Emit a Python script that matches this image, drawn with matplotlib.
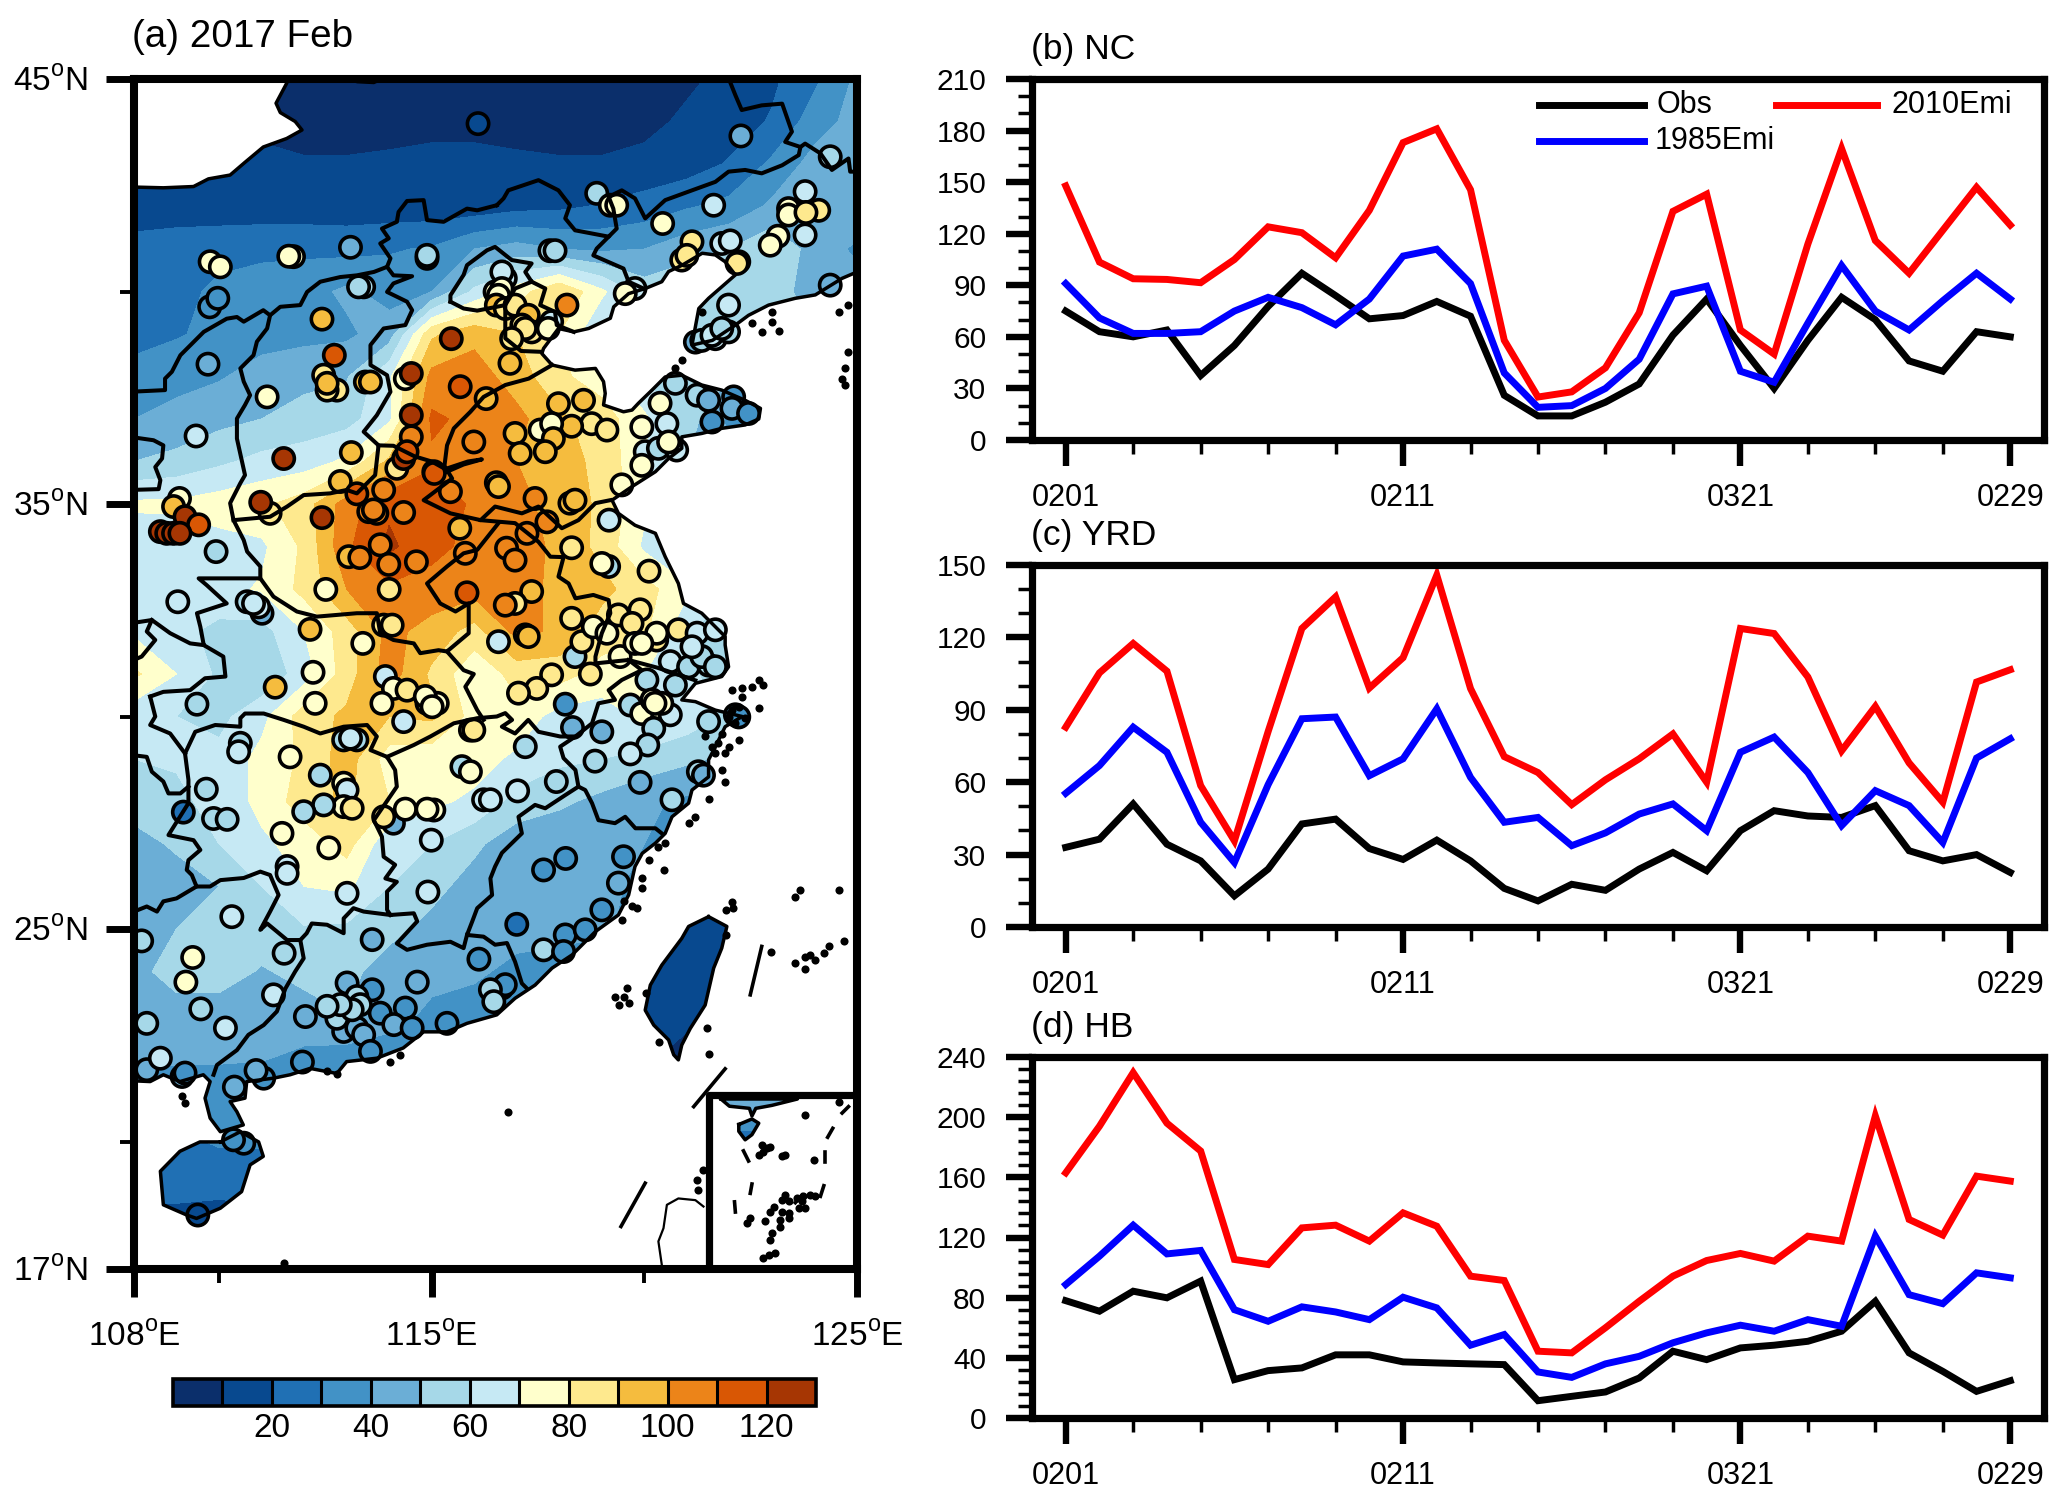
import numpy as np
import matplotlib
matplotlib.use('Agg')
import matplotlib.pyplot as plt
from matplotlib.colors import ListedColormap, BoundaryNorm
from matplotlib.cm import ScalarMappable
from matplotlib.path import Path
from matplotlib.ticker import FixedLocator, MultipleLocator

plt.rcParams['font.family'] = ['Liberation Sans', 'DejaVu Sans']
plt.rcParams['mathtext.fontset'] = 'custom'
plt.rcParams['mathtext.rm'] = 'Liberation Sans'

## series of the three right panels
days = list(range(29))
day_ticks = [0, 10, 20, 28]
day_labels = ['0201', '0211', '0321', '0229']

nc_obs = [75, 63, 60, 64, 37.5, 55, 77.7, 97, 84, 70.5, 72.4, 80.6, 72, 26, 14, 14, 22, 32.6, 61, 82, 55, 30, 58, 83, 70, 46, 40, 63, 60]
nc_1985 = [91, 71, 62, 62, 63, 75, 83, 77, 67, 82, 107, 111, 91, 39, 19, 20, 30, 47, 85, 89.5, 40, 33.6, 68, 101.5, 75, 64, 81, 97, 82]
nc_2010 = [147.8, 103.5, 93.8, 93.4, 91.5, 105, 124, 120.6, 106, 133.6, 173, 181, 145.6, 58, 25, 28, 42, 74, 133, 143, 64, 50, 114, 169.5, 116, 97, 122, 147, 125]

yrd_obs = [33, 36.4, 51, 34.3, 27.4, 12.9, 24, 42.7, 44.7, 32.5, 28, 36, 27.4, 16, 10.8, 17.7, 15.2, 24, 30.9, 23.3, 39.9, 48.2, 46, 45.4, 50.3, 31.6, 27.4, 30, 22.6]
yrd_1985 = [55.4, 66.9, 82.8, 72.4, 43.4, 26.7, 59, 86.3, 87, 62.7, 69.7, 90.4, 62, 43.4, 45.4, 33.7, 39, 46.8, 51, 39.9, 72.4, 78.7, 64, 42, 56.5, 50.3, 35, 70, 78]
yrd_2010 = [82.8, 105.3, 117.5, 106, 58.6, 35.7, 81, 123.7, 136.8, 99, 111.6, 145.8, 98.8, 70.6, 64, 50.7, 61, 69.7, 80, 60, 123.7, 121.6, 103.6, 73, 91.4, 68, 51.7, 101.5, 106.6]

hb_obs = [78, 71, 84.3, 79.9, 91, 25.5, 31.5, 33.3, 42, 42, 37.3, 36.6, 36, 35.5, 11.5, 14.4, 17.3, 26.6, 44.4, 38.8, 46.6, 48.4, 51, 57.7, 77.6, 43.3, 31, 17.7, 24.8]
hb_1985 = [88.7, 107.6, 128.2, 109.1, 111.4, 72, 64.3, 73.9, 70.5, 65.4, 80.3, 73.2, 48.4, 55.5, 30.6, 27, 36, 41, 50, 56.6, 61.7, 57.7, 65.4, 61, 120.9, 82, 76, 96.5, 93.2]
hb_2010 = [163, 194, 229.6, 196, 177.5, 105.4, 102, 126.4, 128.2, 117.6, 136.4, 127.5, 94.3, 91.4, 44.4, 43.3, 60, 77.6, 94.3, 104.7, 109.4, 104.3, 120.9, 117.6, 200.8, 132, 121.6, 160.8, 157.5]

## colour classes
levels = list(range(0, 140, 10))
level_colors = ['#0B2F6B', '#08498F', '#2070B4', '#4292C6', '#6BAED6', '#A6D8E8', '#C6E9F4',
                '#FFFFCC', '#FEE98E', '#F5BC3E', '#EC8419', '#D95704', '#A63603']
cbar_ticks = [20, 40, 60, 80, 100, 120]

## gridded field, one row per latitude, lon 108..125
field_lon = list(range(108, 126))
field_lat = list(range(45, 16, -1))
field_rows = [
    [5, 5, 5, 5, 5, 5, 5, 5, 5, 5, 5, 5, 5, 8, 13, 18, 28, 42],
    [8, 8, 8, 8, 6, 6, 6, 7, 8, 6, 6, 6, 7, 12, 15, 21, 35, 44],
    [12, 12, 12, 12, 11, 11, 12, 13, 12, 12, 11, 11, 13, 15, 21, 32, 44, 47],
    [14, 14, 14, 14, 14, 14, 14, 14, 14, 17, 18, 21, 24, 29, 33, 42, 46, 48],
    [24, 26, 27, 28, 28, 27, 29, 31, 40, 44, 40, 38, 40, 46, 50, 58, 46, 38],
    [24, 27, 32, 34, 36, 42, 36, 40, 62, 75, 90, 72, 55, 58, 60, 52, 48, 45],
    [27, 29, 33, 36, 37, 38, 45, 88, 97, 90, 80, 60, 60, 58, 56, 52, 50, 50],
    [33, 37, 39, 44, 47, 49, 68, 103, 105, 95, 82, 75, 60, 55, 50, 48, 45, 45],
    [40, 43, 47, 50, 54, 56, 68, 112, 107, 103, 92, 85, 72, 55, 38, 35, 35, 35],
    [50, 53, 58, 63, 65, 72, 92, 108, 105, 100, 93, 88, 70, 50, 40, 35, 35, 35],
    [72, 72, 75, 78, 85, 105, 118, 118, 108, 103, 96, 88, 72, 60, 50, 45, 45, 45],
    [62, 64, 66, 68, 82, 108, 122, 113, 107, 106, 97, 87, 68, 55, 50, 45, 45, 45],
    [64, 65, 67, 71, 83, 100, 108, 106, 104, 106, 96, 93, 84, 72, 60, 50, 45, 45],
    [68, 63, 57, 56, 70, 85, 103, 96, 86, 103, 98, 85, 82, 62, 50, 45, 45, 45],
    [82, 70, 58, 52, 65, 85, 105, 88, 72, 84, 84, 76, 70, 62, 55, 45, 45, 45],
    [63, 60, 57, 67, 85, 92, 90, 92, 76, 76, 66, 65, 72, 66, 58, 45, 45, 45],
    [60, 61, 63, 73, 82, 95, 75, 73, 74, 68, 62, 60, 56, 52, 48, 45, 45, 45],
    [56, 58, 63, 73, 85, 92, 80, 72, 68, 56, 52, 47, 42, 38, 35, 35, 35, 35],
    [45, 52, 60, 68, 74, 84, 62, 60, 52, 44, 42, 42, 40, 35, 32, 30, 30, 30],
    [45, 44, 50, 60, 70, 72, 60, 53, 46, 42, 42, 42, 38, 30, 25, 25, 25, 25],
    [42, 50, 55, 56, 59, 58, 53, 47, 44, 44, 44, 44, 30, 15, 14, 14, 14, 14],
    [47, 54, 55, 49, 53, 53, 45, 43, 42, 37, 34, 25, 22, 14, 13, 13, 13, 13],
    [45, 46, 45, 42, 46, 50, 44, 38, 35, 34, 30, 25, 16, 13, 12, 12, 12, 12],
    [42, 42, 42, 41, 38, 36, 35, 32, 30, 30, 25, 20, 12, 6, 8, 8, 8, 8],
    [35, 32, 31, 32, 32, 32, 32, 30, 30, 30, 25, 20, 12, 10, 45, 45, 45, 25],
    [28, 28, 31, 31, 30, 30, 30, 30, 30, 30, 30, 30, 30, 30, 25, 25, 25, 25],
    [25, 25, 24, 25, 25, 25, 25, 25, 25, 25, 25, 25, 25, 25, 25, 25, 25, 25],
    [14, 14, 13, 14, 14, 14, 14, 14, 14, 14, 14, 14, 14, 14, 14, 14, 14, 14],
    [14, 14, 14, 14, 14, 14, 14, 14, 14, 14, 14, 14, 14, 14, 14, 14, 14, 14],
]

## outlines, lon / lat
mainland = [(107.5, 42.47), (108.69, 42.44), (109.40, 42.47), (109.75, 42.65), (110.26, 42.74), (110.61, 43.04),
            (111.04, 43.40), (111.59, 43.60), (111.95, 43.80), (111.79, 44.00), (111.44, 44.21), (111.34, 44.43),
            (111.59, 44.90), (111.75, 45.5), (125.5, 45.5), (125.5, 40.43), (124.93, 40.43), (124.65, 40.31),
            (124.02, 39.92), (123.55, 39.84), (122.92, 39.68), (122.45, 39.44), (122.14, 39.21), (121.6, 38.85),
            (121.12, 38.74), (121.28, 39.60), (121.51, 39.84), (122.14, 40.39), (121.90, 40.70), (121.67, 40.86),
            (121.36, 40.90), (120.89, 40.62), (120.57, 40.47), (120.41, 40.23), (120.02, 40.07), (119.63, 39.95),
            (119.28, 39.64), (119.20, 39.37), (118.69, 39.13), (118.34, 39.05), (117.98, 39.13), (117.63, 38.66),
            (117.59, 38.54), (117.83, 38.27), (118.37, 38.15), (118.85, 38.19), (119.04, 37.88), (119.08, 37.60),
            (119.04, 37.33), (119.51, 37.17), (119.71, 37.21), (119.86, 37.37), (120.18, 37.68), (120.49, 37.99),
            (120.88, 38.03), (121.35, 37.80), (121.82, 37.68), (122.37, 37.44), (122.73, 37.25), (122.69, 37.00),
            (122.37, 36.86), (121.82, 36.78), (121.35, 36.66), (120.88, 36.58), (120.88, 36.31), (120.57, 36.07),
            (120.26, 35.76), (119.71, 35.41), (119.24, 35.09), (119.39, 34.78), (119.78, 34.50), (120.26, 34.31),
            (120.49, 33.76), (120.80, 33.13), (120.92, 32.66), (121.35, 32.43), (121.90, 31.88), (121.90, 31.68),
            (121.98, 31.17), (121.82, 30.94), (121.20, 30.78), (120.88, 30.39), (121.20, 30.35), (121.67, 30.15),
            (122.3, 30.0), (121.90, 29.76), (121.67, 29.29), (121.51, 28.98), (121.51, 28.58), (121.12, 28.27),
            (121.04, 27.96), (120.65, 27.64), (120.49, 27.25), (120.26, 27.02), (119.95, 26.78), (119.78, 26.47),
            (119.63, 25.80), (119.39, 25.33), (118.85, 24.94), (118.30, 24.39), (117.83, 24.08), (117.43, 23.68),
            (116.96, 23.37), (116.53, 22.98), (115.83, 22.78), (115.36, 22.58), (114.81, 22.58), (114.33, 22.20),
            (113.71, 21.96), (113.00, 21.88), (112.77, 21.60), (112.14, 21.72), (111.67, 21.57), (111.28, 21.49),
            (110.65, 21.41), (110.61, 21.02), (110.26, 20.94), (110.42, 20.70), (110.57, 20.39), (110.03, 20.23),
            (109.79, 20.55), (109.67, 21.02), (109.79, 21.41), (109.63, 21.57), (109.08, 21.41), (108.69, 21.57),
            (108.38, 21.41), (107.5, 21.45)]
hainan = [(110.03, 19.99), (110.50, 20.23), (110.93, 19.99), (111.04, 19.65), (110.73, 19.45), (110.53, 18.82),
          (110.03, 18.43), (109.47, 18.19), (109.24, 18.27), (108.69, 18.51), (108.62, 19.30), (109.08, 19.77),
          (109.55, 19.99)]
taiwan = [(121.51, 25.29), (121.94, 25.06), (121.82, 24.55), (121.63, 24.08), (121.43, 23.21), (121.08, 22.66),
          (120.88, 22.27), (120.80, 21.92), (120.69, 22.04), (120.57, 22.39), (120.22, 22.74), (120.02, 23.09),
          (120.14, 23.68), (120.41, 24.15), (120.88, 24.78), (121.04, 25.06)]
inset_hainan = [(122.22, 20.4), (122.53, 20.53), (122.69, 20.43), (122.53, 20.16), (122.37, 20.04), (122.22, 20.24)]
inset_coast = [(121.8, 21.0), (122.0, 20.83), (122.47, 20.78), (122.53, 20.6), (122.62, 20.78), (123.0, 20.85), (123.6, 21.0)]
top_lake = [(112.93, 45.0), (113.25, 44.92), (113.64, 44.9), (113.87, 45.0)]

province_lines = [
    # north border of Hebei / Shanxi / Shaanxi
    [(116.53, 42.03), (116.07, 41.91), (115.83, 41.95), (115.28, 41.64), (114.89, 41.68), (114.81, 42.15), (114.42, 42.13),
     (114.22, 41.87), (114.18, 41.64), (113.83, 41.48), (113.99, 41.25), (113.79, 41.13), (114.03, 40.78), (113.95, 40.58),
     (113.64, 40.46), (113.24, 40.38), (112.85, 40.34), (112.38, 40.23), (112.07, 39.99), (111.91, 39.68), (111.44, 39.64),
     (111.20, 39.44), (111.04, 39.56), (110.58, 39.29), (110.42, 39.40), (110.18, 39.36), (109.64, 39.05), (109.09, 38.50),
     (108.89, 38.11), (108.73, 37.95), (108.73, 37.68), (107.9, 37.64)],
    # Shanxi - Shaanxi
    [(111.20, 39.44), (111.13, 39.13), (110.89, 38.82), (110.81, 38.50), (110.50, 38.19), (110.58, 37.88), (110.73, 37.56),
     (110.61, 37.33), (110.42, 37.01), (110.42, 36.54), (110.61, 35.68), (110.50, 35.49), (110.26, 35.02), (110.34, 34.62),
     (110.58, 34.15), (110.66, 33.88), (110.97, 33.53), (110.97, 33.25)],
    # Shanxi - Hebei - Henan
    [(113.95, 40.58), (114.10, 40.38), (114.54, 40.36), (114.10, 40.19), (113.95, 39.99), (114.42, 39.76), (114.54, 39.56),
     (114.38, 39.21), (113.87, 39.13), (113.56, 38.74), (113.56, 38.27), (113.95, 38.03), (114.03, 37.64), (113.71, 37.09),
     (113.40, 36.70), (113.75, 36.38), (113.67, 35.68), (113.24, 35.25), (113.00, 35.33), (112.61, 35.25), (111.99, 35.21),
     (111.60, 34.94), (111.20, 34.70), (110.34, 34.62)],
    [(113.75, 36.38), (114.10, 36.37), (114.60, 36.12), (115.00, 36.00), (115.36, 35.80)],
    [(115.36, 35.76), (115.75, 35.93), (116.18, 36.05), (115.85, 36.00), (115.40, 35.85)],
    # Hebei - Shandong - Henan
    [(117.83, 38.27), (117.28, 37.95), (116.73, 37.80), (116.22, 37.52), (115.91, 37.17), (115.52, 36.78), (115.36, 36.38),
     (115.30, 35.90), (115.48, 35.60), (114.81, 35.09), (115.44, 34.78), (116.15, 34.62), (116.49, 34.94), (117.12, 34.78),
     (117.51, 34.94), (118.06, 34.43), (118.45, 34.62), (118.85, 35.02), (119.20, 35.09)],
    # Jiangsu - Anhui
    [(116.15, 34.62), (116.96, 34.55), (117.51, 34.11), (117.79, 33.76), (118.10, 33.75), (117.98, 33.29), (118.22, 33.13),
     (118.38, 32.78), (118.80, 32.86), (119.16, 32.74), (119.20, 32.43), (119.00, 31.96), (118.85, 31.41), (118.85, 31.25),
     (119.63, 31.33), (119.94, 31.09), (119.47, 30.86), (119.16, 30.62), (119.31, 30.39), (118.92, 30.31), (118.77, 29.84),
     (118.38, 29.53), (118.02, 29.29), (118.10, 29.02), (118.38, 28.74), (118.45, 28.35), (118.61, 28.27), (118.77, 27.96),
     (118.92, 27.56), (119.31, 27.49), (119.55, 27.64), (119.79, 27.37), (120.26, 27.37), (120.41, 27.25)],
    [(119.63, 31.33), (120.3, 31.15), (120.9, 30.95), (121.2, 30.85)],
    # Fujian - Jiangxi - Guangdong
    [(118.45, 28.35), (118.14, 28.15), (117.67, 27.84), (117.43, 27.92), (117.04, 27.64), (117.12, 27.25), (116.65, 26.79),
     (116.49, 26.47), (116.38, 26.19), (116.42, 25.80), (116.07, 25.49), (115.95, 25.17), (115.83, 24.86), (116.22, 24.82),
     (116.49, 24.63), (116.77, 24.67), (116.96, 24.23), (117.12, 23.72), (117.24, 23.60)],
    # Jiangxi - Guangdong - Hunan - Guangxi
    [(115.83, 24.86), (115.75, 24.55), (115.44, 24.70), (114.89, 24.63), (114.42, 24.51), (114.18, 24.66), (114.66, 25.18),
     (114.58, 25.37), (114.03, 25.33), (113.40, 25.41), (113.16, 25.49), (112.93, 25.25), (112.93, 24.90), (112.54, 25.10),
     (112.18, 25.13), (112.06, 24.90), (111.91, 24.74), (111.60, 24.74), (111.36, 24.94), (111.13, 25.13), (110.97, 24.98),
     (111.20, 25.41), (111.40, 25.80), (111.20, 26.27), (110.97, 26.35), (110.58, 26.20), (110.03, 26.15), (109.79, 26.00),
     (109.47, 26.00), (109.36, 26.27), (109.24, 26.39), (109.28, 26.62), (109.56, 26.86), (109.40, 27.09), (108.81, 27.21),
     (109.28, 27.96), (109.28, 28.51), (109.20, 29.13), (109.44, 29.64), (109.91, 29.80), (110.50, 29.76), (110.50, 29.96),
     (110.61, 30.07), (111.05, 30.07), (111.52, 29.92), (111.99, 29.76), (112.38, 29.60), (112.93, 29.76), (113.48, 29.80),
     (113.71, 29.53), (113.56, 29.21), (113.95, 29.05), (114.14, 28.74), (114.18, 28.35), (113.64, 27.56), (113.83, 27.17),
     (113.87, 26.70), (114.14, 26.51), (113.91, 26.19), (114.18, 26.11), (113.95, 25.88), (113.95, 25.45), (114.03, 25.33)],
    [(109.47, 26.00), (109.00, 25.72), (108.69, 25.65), (108.54, 25.41), (108.30, 25.53), (107.9, 25.37)],
    # Jiangxi - Hubei - Anhui
    [(113.95, 29.05), (114.58, 29.33), (114.97, 29.53), (115.52, 29.84), (116.07, 29.96), (116.53, 30.00), (116.73, 30.08),
     (116.89, 29.92), (116.65, 29.76), (116.96, 29.6), (117.27, 29.92), (117.51, 29.64), (118.02, 29.53), (118.38, 29.53)],
    [(108.38, 30.47), (108.50, 30.00), (108.38, 29.80), (108.85, 29.60), (109.20, 29.13)],
    [(108.38, 30.47), (108.69, 30.58), (109.32, 30.62), (109.67, 30.90), (110.15, 30.94), (110.10, 31.41), (109.64, 31.68),
     (109.56, 32.11), (109.48, 32.43), (110.18, 32.66), (109.71, 33.09), (109.52, 33.25), (110.50, 33.25), (110.97, 33.25),
     (111.28, 32.82), (111.83, 32.47), (112.30, 32.35), (113.24, 32.43), (113.71, 32.43), (113.79, 31.96), (114.10, 31.80),
     (114.58, 31.72), (114.73, 31.49), (115.16, 31.56), (115.36, 31.53), (115.87, 31.96), (115.87, 32.66), (115.56, 32.47),
     (115.20, 32.66), (114.89, 33.13), (115.36, 33.53), (115.75, 33.84), (116.07, 33.92), (116.57, 34.55)],
    [(115.36, 31.53), (115.75, 31.09), (115.99, 31.00), (115.79, 30.70), (116.07, 30.15), (116.22, 29.92)],
    # Guangxi - Guangdong
    [(111.91, 24.74), (111.99, 24.31), (111.79, 24.00), (111.56, 23.60), (111.36, 23.06), (111.05, 22.74), (110.69, 22.51),
     (110.42, 22.15), (109.95, 21.80), (109.87, 21.57)],
    # Inner Mongolia - Liaoning - Jilin
    [(116.53, 42.03), (116.69, 42.19), (116.80, 42.38), (117.51, 42.62), (117.98, 42.38), (118.25, 42.03), (118.14, 41.72),
     (118.37, 41.44), (119.16, 41.29), (119.35, 41.48), (119.27, 41.95), (119.16, 42.23), (119.47, 42.38), (119.78, 42.19),
     (120.02, 41.72), (120.49, 42.15), (121.12, 42.38), (121.67, 42.58), (121.98, 42.82), (122.37, 42.86), (122.76, 42.78),
     (123.24, 42.97), (123.63, 43.21), (123.67, 43.40), (123.31, 43.52), (123.47, 43.76), (123.24, 44.42), (122.76, 44.38),
     (122.29, 44.27), (122.14, 44.62), (122.02, 44.92), (121.95, 45.2)],
    [(123.67, 43.40), (123.78, 43.48), (124.14, 43.25), (124.41, 42.86), (124.80, 43.13), (124.84, 42.82), (125.1, 42.82)],
    [(119.16, 41.29), (118.88, 41.01), (118.80, 40.85), (119.51, 40.54), (119.63, 40.23), (119.98, 40.07)],
    # Beijing, Tianjin
    [(115.44, 39.76), (115.44, 39.91), (115.75, 40.39), (115.83, 40.62), (116.30, 40.97), (116.49, 41.05), (116.88, 40.74),
     (117.35, 40.66), (117.20, 40.46), (117.35, 40.23), (117.67, 40.07), (117.55, 39.68), (117.90, 39.52), (117.94, 39.21),
     (118.34, 39.05)],
    [(115.44, 39.76), (115.75, 39.60), (116.07, 39.55), (116.73, 39.68), (116.96, 40.07), (117.35, 40.23)],
    [(116.73, 39.68), (116.73, 38.90), (117.10, 38.60), (117.59, 38.58)],
    # western edge pieces
    [(107.9, 36.58), (108.46, 36.50), (108.69, 36.38), (108.66, 36.07), (108.50, 35.87), (108.62, 35.56), (108.58, 35.35), (107.9, 35.33)],
    [(107.9, 32.19), (108.42, 32.27), (108.30, 32.00), (108.50, 31.80), (108.18, 31.41), (107.9, 31.29)],
    [(108.42, 32.27), (108.85, 31.96), (109.32, 31.72), (109.64, 31.68)],
    [(107.9, 29.10), (108.30, 29.05), (108.42, 28.70), (108.69, 28.47), (108.81, 28.19), (109.09, 28.19), (109.28, 28.35)],
]

philippines = [(120.41, 17.1), (120.33, 17.65), (120.45, 17.96), (120.53, 18.51), (120.80, 18.66), (121.20, 18.62), (121.39, 18.47)]
nine_dash = [[(122.76, 24.59), (122.49, 23.45)], [(121.90, 21.71), (121.16, 20.82)], [(120.02, 19.02), (119.45, 18.00)]]
inset_dash = [[(124.65, 20.67), (124.80, 20.82)], [(124.31, 20.10), (124.43, 20.31)], [(122.33, 19.78), (122.45, 19.54)],
              [(124.24, 19.75), (124.24, 19.51)], [(122.53, 19.00), (122.49, 18.78)], [(124.22, 18.96), (124.14, 18.71)],
              [(122.12, 18.58), (122.14, 18.34)], [(123.71, 18.74), (123.55, 18.56)]]
inset_corner = [(121.51, 17.0), (121.51, 21.09), (125.0, 21.09)]

islets = [(120.47, 26.39), (119.94, 26.20), (119.94, 25.96), (119.71, 25.53), (119.51, 25.65), (119.82, 25.49), (119.47, 25.22),
          (121.93, 25.45), (122.06, 25.63), (122.08, 25.49), (123.55, 25.76), (123.67, 25.92), (124.57, 25.92), (124.69, 24.71),
          (122.98, 24.46), (123.78, 24.35), (124.02, 24.27), (124.22, 24.43), (124.33, 24.59), (123.55, 24.20), (123.77, 24.06),
          (123.90, 24.39), (121.93, 24.86), (119.59, 23.61), (119.51, 23.41), (119.31, 23.41), (119.41, 23.22), (119.63, 23.27),
          (120.04, 23.49), (120.35, 22.35), (121.47, 22.67), (121.53, 22.05), (116.80, 20.69),
          (122.06, 30.62), (122.29, 30.66), (122.53, 30.70), (122.69, 30.86), (122.80, 30.74), (122.29, 30.47), (122.69, 30.19),
          (122.22, 29.45), (121.90, 29.13), (121.82, 28.74), (121.90, 28.47), (121.51, 28.07), (121.20, 27.64), (121.04, 27.49),
          (120.49, 27.02), (120.33, 26.94), (120.10, 26.62), (122.06, 30.15), (122.22, 30.23), (121.98, 29.99), (122.14, 29.84),
          (122.37, 29.96), (121.82, 29.60), (121.59, 29.29), (121.74, 29.37), (121.98, 29.29), (121.67, 29.13), (121.43, 29.53),
          (123.00, 39.52), (122.53, 39.25), (122.76, 39.05), (123.16, 39.07), (123.00, 39.29), (124.80, 38.58), (124.72, 38.19),
          (124.65, 37.95), (124.72, 37.80), (124.80, 39.68), (124.57, 39.52), (120.88, 38.38), (120.73, 38.19), (121.35, 39.52),
          (109.13, 21.06), (109.20, 20.90), (114.03, 21.88), (114.26, 22.04), (112.77, 21.60), (112.54, 21.65), (111.52, 17.14),
          (123.78, 20.63), (124.57, 20.94), (122.76, 19.92), (122.88, 19.84), (122.96, 19.88), (122.80, 19.76), (122.69, 19.69),
          (123.98, 19.57), (123.31, 19.69), (123.24, 19.66), (123.31, 18.75), (123.39, 18.59), (123.59, 18.67), (123.71, 18.59),
          (123.63, 18.43), (123.78, 18.43), (123.90, 18.75), (123.24, 18.63), (123.74, 18.71), (124.02, 18.71), (123.04, 18.47),
          (122.96, 18.35), (123.24, 18.35), (123.39, 18.31), (122.84, 18.12), (122.49, 18.20), (122.41, 18.08), (123.20, 18.16),
          (123.39, 18.20), (123.20, 18.00), (123.00, 17.84), (122.96, 17.69), (122.92, 17.33), (122.80, 17.27), (123.08, 17.37),
          (121.23, 19.10), (121.27, 18.86), (121.39, 19.33)]

## stations: lon, lat, observed value
st_north = [(116.09, 43.95, 15), (109.79, 40.70, 75), (110.03, 40.58, 75), (111.75, 40.82, 75), (111.64, 40.83, 75), (113.09, 41.04, 45),
            (114.89, 40.78, 48), (114.89, 40.85, 55), (113.40, 40.11, 55), (113.28, 40.11, 58), (109.78, 39.64, 30), (109.97, 39.84, 35),
            (112.42, 39.35, 95), (112.71, 38.50, 115), (109.74, 38.29, 45), (112.46, 38.03, 85), (112.77, 37.68, 85), (112.54, 37.68, 85),
            (112.54, 37.84, 90), (113.44, 37.87, 90), (113.56, 37.87, 95), (114.38, 37.95, 75), (114.52, 38.07, 125), (115.46, 38.89, 125),
            (115.67, 37.76, 112), (111.13, 37.52, 75), (114.52, 37.09, 122), (114.52, 36.58, 105), (115.99, 36.46, 105), (109.46, 36.60, 65),
            (111.52, 36.07, 125), (113.11, 36.21, 95), (116.28, 37.48, 95), (114.18, 35.84, 80), (114.34, 36.07, 120), (114.42, 36.23, 110),
            (115.05, 35.76, 115)]
st_northeast = [(122.27, 43.66, 45), (124.37, 43.17, 55), (118.88, 42.31, 55), (119.20, 42.03, 75), (119.35, 42.03, 75), (121.63, 42.03, 65),
                (120.43, 41.60, 75), (117.78, 40.96, 55), (117.90, 40.96, 58), (121.12, 41.17, 80), (120.88, 40.74, 85), (121.00, 40.85, 82),
                (121.82, 41.13, 60), (122.02, 41.19, 60), (122.22, 40.70, 75), (122.18, 40.66, 80), (123.78, 42.35, 65), (124.10, 41.91, 80),
                (123.39, 41.95, 70), (123.39, 41.80, 75), (123.80, 41.86, 85), (123.78, 41.33, 62), (123.14, 41.30, 75), (122.96, 41.09, 75),
                (119.78, 40.07, 60), (119.55, 39.95, 75), (124.37, 40.15, 40), (118.18, 39.68, 105), (121.98, 39.68, 62), (121.20, 38.81, 45),
                (121.35, 38.85, 55), (121.67, 38.89, 60), (121.59, 38.97, 60), (121.98, 39.05, 55), (121.82, 39.13, 55)]
st_beijing = [(116.73, 40.31, 60), (116.65, 40.46, 60), (116.49, 39.99, 75), (116.65, 40.07, 70), (116.57, 39.91, 75), (116.52, 39.68, 90),
              (116.73, 39.60, 88), (116.96, 39.68, 88), (117.27, 39.44, 90), (117.12, 39.21, 80), (117.35, 39.05, 80), (117.20, 39.13, 85),
              (117.82, 39.29, 65), (117.74, 39.13, 70), (116.88, 38.89, 88), (116.84, 38.31, 92)]
st_shandong = [(117.98, 37.36, 92), (118.57, 37.44, 92), (118.76, 36.89, 80), (119.12, 36.74, 82), (118.29, 36.83, 92), (117.55, 36.74, 75),
               (117.82, 36.89, 75), (117.86, 36.54, 92), (117.67, 36.23, 92), (116.96, 36.66, 90), (117.08, 36.19, 92), (120.73, 37.84, 55),
               (120.37, 37.37, 72), (121.24, 37.56, 50), (121.51, 37.44, 45), (122.10, 37.52, 30), (122.06, 37.25, 42), (121.59, 36.93, 35),
               (120.53, 36.89, 65), (119.94, 36.81, 72), (122.45, 37.13, 35), (120.02, 36.23, 60), (120.33, 36.31, 55), (120.76, 36.27, 60),
               (120.57, 36.46, 75), (119.94, 35.91, 72)]
st_central = [(109.07, 35.13, 75), (108.93, 34.94, 95), (109.20, 34.70, 120), (109.52, 34.51, 115), (108.62, 34.35, 125), (108.77, 34.31, 125),
              (108.93, 34.31, 125), (109.08, 34.31, 125), (109.93, 33.88, 55), (111.20, 34.78, 85), (110.98, 35.04, 122), (109.03, 32.70, 65),
              (110.66, 32.70, 55), (111.01, 32.43, 42), (110.93, 32.58, 62), (110.81, 32.66, 62), (112.14, 32.05, 92), (112.42, 34.68, 122),
              (112.85, 35.53, 92), (113.24, 35.24, 115), (113.87, 35.33, 105), (113.52, 34.82, 105), (113.71, 34.78, 105), (113.63, 34.86, 105),
              (114.34, 34.80, 108), (115.06, 35.72, 112), (115.44, 35.29, 108), (115.66, 34.43, 90), (115.79, 33.84, 105), (116.52, 35.50, 90),
              (113.05, 33.76, 95), (113.31, 33.74, 108), (113.79, 34.04, 108), (113.99, 33.58, 108), (114.64, 33.64, 108), (112.51, 32.99, 72),
              (114.00, 32.99, 80), (115.83, 32.91, 115), (113.87, 32.15, 80), (114.07, 32.15, 80), (113.38, 31.72, 72), (113.91, 30.94, 60),
              (114.10, 30.66, 75), (113.83, 30.31, 72), (114.42, 30.62, 82), (114.34, 29.88, 60), (114.89, 30.31, 72), (115.13, 30.31, 72),
              (114.85, 30.47, 75), (115.01, 30.23, 75), (112.21, 31.04, 72), (112.26, 30.31, 78), (111.32, 30.69, 92), (109.48, 30.29, 58),
              (110.50, 29.37, 52), (110.46, 29.17, 60)]
st_hunan = [(112.93, 29.45, 55), (113.24, 29.45, 58), (113.09, 29.49, 62), (111.67, 29.05, 72), (112.38, 28.62, 58), (112.93, 28.43, 70),
            (113.01, 28.27, 65), (112.93, 27.88, 78), (113.13, 27.84, 85), (112.46, 27.92, 55), (111.99, 27.76, 55), (114.10, 27.49, 45),
            (113.87, 27.64, 88), (114.38, 27.82, 72), (115.05, 27.80, 72), (114.89, 27.82, 72), (115.91, 29.68, 72), (115.99, 29.68, 80),
            (115.71, 28.82, 55), (115.91, 28.70, 72), (116.22, 28.04, 60), (116.38, 28.04, 60), (109.70, 28.29, 52), (109.87, 27.60, 50),
            (110.19, 27.58, 57), (109.16, 27.75, 22), (111.48, 27.25, 72), (112.58, 26.91, 72), (114.99, 27.09, 60), (111.60, 26.47, 62),
            (111.60, 26.31, 62)]
st_east = [(119.47, 35.45, 72), (119.17, 34.62, 62), (117.43, 35.13, 108), (118.25, 35.02, 92), (118.37, 35.09, 92), (117.71, 34.58, 105),
           (117.24, 34.31, 108), (116.57, 35.41, 95), (118.29, 33.97, 88), (119.16, 33.53, 55), (119.00, 33.60, 72), (120.11, 33.42, 88),
           (116.76, 33.96, 108), (116.96, 33.68, 108), (117.35, 32.94, 95), (116.96, 32.66, 88), (116.73, 32.62, 105), (117.20, 31.92, 90),
           (117.27, 31.88, 92), (116.57, 31.76, 60), (117.82, 30.98, 88), (117.47, 30.66, 85), (117.04, 30.55, 85), (118.29, 32.31, 85),
           (118.37, 31.41, 55), (118.53, 31.76, 82), (118.80, 32.11, 72), (119.12, 31.96, 72), (119.39, 32.39, 82), (119.90, 32.51, 85),
           (119.71, 32.19, 85), (119.43, 31.41, 72), (119.78, 31.72, 72), (118.73, 31.00, 85), (120.29, 31.80, 80), (120.80, 32.04, 80),
           (120.29, 31.96, 78), (119.94, 31.72, 72), (120.61, 31.29, 60), (121.04, 31.17, 55), (121.51, 31.21, 50), (121.35, 31.41, 55),
           (121.24, 31.96, 62), (121.67, 32.04, 62), (121.12, 31.64, 60), (121.67, 31.17, 55), (120.06, 30.86, 58), (120.73, 30.74, 55),
           (119.67, 30.27, 58), (120.61, 30.04, 60), (119.94, 30.07, 72), (120.18, 30.39, 72), (120.41, 30.31, 72), (120.25, 30.31, 78),
           (120.22, 29.72, 50), (120.08, 29.33, 52), (119.67, 29.12, 62), (121.51, 29.88, 55), (122.14, 30.04, 30), (122.22, 29.99, 30)]
st_southeast = [(118.14, 30.29, 35), (118.31, 29.74, 45), (119.00, 29.64, 45), (118.84, 28.95, 50), (117.20, 29.29, 55), (117.93, 28.47, 50),
                (117.02, 28.25, 62), (119.90, 28.45, 45), (120.65, 28.04, 55), (121.27, 28.70, 50), (121.39, 28.62, 42), (118.15, 26.66, 32),
                (119.51, 26.70, 35), (117.63, 26.39, 35), (117.00, 25.11, 22), (119.39, 26.08, 45), (119.00, 25.45, 35), (118.14, 24.86, 35),
                (118.61, 24.98, 35), (117.63, 24.51, 50), (118.10, 24.47, 35), (116.65, 23.61, 35), (116.73, 23.69, 35)]
st_south = [(113.01, 25.84, 62), (114.91, 25.87, 60), (110.30, 25.29, 60), (108.18, 24.72, 58), (113.60, 24.75, 42), (116.11, 24.29, 32),
            (111.53, 24.43, 50), (109.38, 24.33, 76), (109.22, 23.75, 75), (109.57, 23.12, 50), (110.15, 22.67, 60), (108.30, 22.78, 55),
            (111.28, 23.45, 62), (108.30, 21.69, 45), (108.62, 21.96, 62), (109.13, 21.53, 40), (109.20, 21.61, 35), (111.05, 21.49, 30),
            (110.87, 21.67, 42), (110.36, 21.28, 45), (111.96, 21.87, 35), (112.03, 22.94, 45), (113.60, 23.57, 35), (113.01, 23.73, 45),
            (114.66, 23.75, 45), (114.38, 23.14, 35), (113.79, 23.02, 35), (113.24, 23.41, 50), (112.93, 22.59, 45), (113.24, 22.67, 45),
            (113.40, 22.51, 42), (113.56, 22.12, 35), (114.11, 22.75, 45), (114.54, 22.67, 35), (115.36, 22.78, 35), (112.77, 22.90, 50),
            (113.32, 23.22, 50), (113.13, 23.10, 58), (112.85, 23.22, 58), (112.54, 23.18, 58), (116.38, 23.57, 50), (116.46, 23.29, 55),
            (110.58, 19.96, 30), (110.34, 20.04, 30), (109.50, 18.27, 18)]

W, H = 2067, 1501


def panel(left, top, right, bottom):
    return fig.add_axes([left / W, 1 - bottom / H, (right - left) / W, (bottom - top) / H])


fig = plt.figure(figsize=(W / 100, H / 100), dpi=100)

## (a) map
ax = panel(134, 79, 857, 1269)
rings = [np.array(p + [p[0]]) for p in (mainland, hainan, taiwan, inset_hainan)]
rings.append(np.array(inset_coast + [inset_coast[0]]))
land = Path.make_compound_path(*[Path(r, closed=True) for r in rings])

cmap = ListedColormap(level_colors)
norm = BoundaryNorm(levels, cmap.N)
cs = ax.contourf(field_lon, field_lat, np.array(field_rows), levels=levels, cmap=cmap, norm=norm)
cs.set_clip_path(land, transform=ax.transData)

stations = np.array(st_north + st_northeast + st_beijing + st_shandong + st_central
                    + st_hunan + st_east + st_southeast + st_south)
ax.scatter(stations[:, 0], stations[:, 1], c=stations[:, 2], cmap=cmap, norm=norm, s=235,
           edgecolors='black', linewidths=2.6, zorder=3)

# boundaries lie over the stations, as in the original
ax.fill(*zip(*top_lake), color='white', ec='black', lw=1.4, zorder=4)
for r in rings:
    ax.plot(r[:, 0], r[:, 1], color='black', lw=2.5, zorder=5)
for line in province_lines:
    ax.plot(*zip(*line), color='black', lw=2.9, solid_joinstyle='round', zorder=5)
ax.plot(*zip(*philippines), color='black', lw=1.6, zorder=5)
for d in nine_dash + inset_dash:
    ax.plot(*zip(*d), color='black', lw=2.6, zorder=5)
ax.scatter(*zip(*islets), s=34, color='black', linewidths=0, zorder=5)
ax.plot(*zip(*inset_corner), color='black', lw=5.2, solid_capstyle='butt', zorder=6)

ax.set_xlim(108, 125)
ax.set_ylim(17, 45)
ax.xaxis.set_major_locator(FixedLocator([108, 115, 125]))
ax.xaxis.set_minor_locator(FixedLocator([110, 120]))
ax.yaxis.set_major_locator(FixedLocator([17, 25, 35, 45]))
ax.yaxis.set_minor_locator(FixedLocator([20, 30, 40]))
ax.set_xticklabels([r'108$^{\mathrm{o}}$E', r'115$^{\mathrm{o}}$E', r'125$^{\mathrm{o}}$E'])
ax.set_yticklabels([r'17$^{\mathrm{o}}$N', r'25$^{\mathrm{o}}$N', r'35$^{\mathrm{o}}$N', r'45$^{\mathrm{o}}$N'])
ax.tick_params(axis='x', which='major', length=20, width=5, labelsize=24, pad=18)
ax.tick_params(axis='y', which='major', length=20, width=5, labelsize=24, pad=13)
ax.tick_params(which='minor', length=10, width=2.8)
for s in ax.spines.values():
    s.set_linewidth(5.8)
    s.set_zorder(10)

## colorbar
cax = panel(173, 1379, 816, 1406)
cb = fig.colorbar(ScalarMappable(norm=norm, cmap=cmap), cax=cax, orientation='horizontal',
                  ticks=cbar_ticks, drawedges=True)
cb.ax.tick_params(length=0, labelsize=24, pad=5)
cb.ax.minorticks_off()
cb.outline.set_linewidth(2.6)
cb.dividers.set_linewidth(2.2)

## (b) (c) (d)
series = [('(b) NC', 79, 440, nc_obs, nc_1985, nc_2010, 210, 30, 10),
          ('(c) YRD', 565, 927, yrd_obs, yrd_1985, yrd_2010, 150, 30, 10),
          ('(d) HB', 1057, 1418, hb_obs, hb_1985, hb_2010, 240, 40, 8)]
axes = []
for title, top, bottom, obs, e1985, e2010, ymax, major, minor in series:
    a = panel(1032, top, 2044, bottom)
    a.plot(days, obs, color='black', lw=5, solid_joinstyle='miter', label='Obs')
    a.plot(days, e1985, color='blue', lw=5, solid_joinstyle='miter', label='1985Emi')
    a.plot(days, e2010, color='red', lw=5, solid_joinstyle='miter', label='2010Emi')
    a.set_xlim(-1, 29)
    a.set_ylim(0, ymax)
    a.yaxis.set_major_locator(MultipleLocator(major))
    a.yaxis.set_minor_locator(MultipleLocator(minor))
    a.xaxis.set_major_locator(FixedLocator(day_ticks))
    a.xaxis.set_minor_locator(FixedLocator(days[::2]))
    a.set_xticklabels(day_labels)
    a.tick_params(axis='x', which='major', length=19, width=4.6, labelsize=22, pad=12)
    a.tick_params(axis='y', which='major', length=19, width=4.6, labelsize=21.5, pad=14)
    a.tick_params(which='minor', length=10, width=2.5)
    for s in a.spines.values():
        s.set_linewidth(5.2)
        s.set_zorder(10)
    fig.text(1031 / W, 1 - (top - 20) / H, title, fontsize=25.5, ha='left', va='baseline')
    axes.append(a)

fig.text(132 / W, 1 - 47 / H, '(a) 2017 Feb', fontsize=27.8, ha='left', va='baseline')

# legend drawn by hand, two columns like the original
ab = axes[0]
ab.plot([0.501, 0.605], [0.927, 0.927], color='black', lw=5, transform=ab.transAxes)
ab.plot([0.735, 0.835], [0.927, 0.927], color='red', lw=5, transform=ab.transAxes)
ab.plot([0.501, 0.605], [0.829, 0.829], color='blue', lw=5, transform=ab.transAxes)
ab.text(0.617, 0.927, 'Obs', fontsize=22, va='center', transform=ab.transAxes)
ab.text(0.849, 0.927, '2010Emi', fontsize=22, va='center', transform=ab.transAxes)
ab.text(0.615, 0.829, '1985Emi', fontsize=22, va='center', transform=ab.transAxes)

fig.savefig('out.png', dpi=100)
